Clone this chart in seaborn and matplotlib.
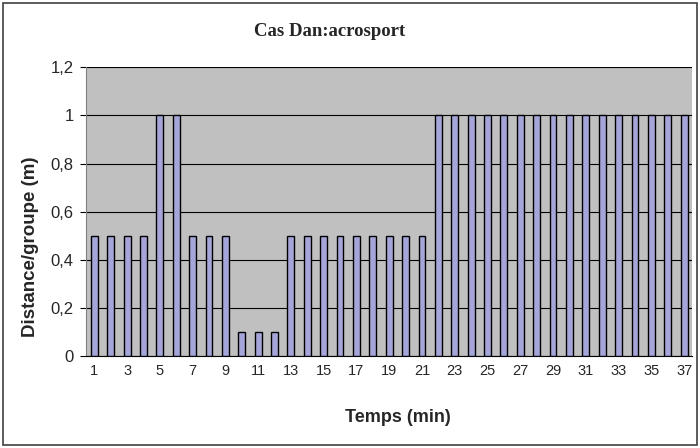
import matplotlib
matplotlib.use("Agg")
import matplotlib.pyplot as plt
import matplotlib.patches as mpatches
import seaborn as sns
import pandas as pd

# minutes and distance per group
minutes = list(range(1, 38))
distance = [0.5, 0.5, 0.5, 0.5, 1, 1, 0.5, 0.5, 0.5, 0.1, 0.1, 0.1,
            0.5, 0.5, 0.5, 0.5, 0.5, 0.5, 0.5, 0.5, 0.5,
            1, 1, 1, 1, 1, 1, 1, 1, 1, 1, 1, 1, 1, 1, 1, 1]
y_ticks = [0, 0.2, 0.4, 0.6, 0.8, 1.0, 1.2]
y_labels = ["0", "0,2", "0,4", "0,6", "0,8", "1", "1,2"]

df = pd.DataFrame({"minute": [str(m) for m in minutes], "distance": distance})

sns.set_style("white")
fig = plt.figure(figsize=(7, 4.48), dpi=100)
ax = fig.add_axes([0.123, 0.205, 0.866, 0.645])
ax.set_facecolor("#c0c0c0")

sns.barplot(data=df, x="minute", y="distance", color="#a5a5da", width=0.42,
            edgecolor="black", linewidth=1.0, saturation=1, ax=ax, zorder=3)

ax.set_xlim(-0.5, len(minutes) - 0.5)
ax.set_ylim(0, 1.2)
ax.set_yticks(y_ticks)
ax.set_yticklabels(y_labels, fontsize=12, family="Liberation Sans")
ax.yaxis.grid(True, color="black", linewidth=0.8, zorder=1)
ax.set_axisbelow(True)

# Excel-style ticks between categories, labels on odd minutes
ax.set_xticks([i - 0.5 for i in range(len(minutes) + 1)], minor=True)
ax.set_xticks(range(0, len(minutes), 2))
ax.set_xticklabels([str(m) for m in minutes[::2]], fontsize=10.5, family="Liberation Sans")
ax.tick_params(axis="x", which="major", length=0, pad=6)
ax.tick_params(axis="x", which="minor", length=4, color="black", direction="out")
ax.tick_params(axis="y", length=4, color="black", direction="out", left=True, pad=5)

for side in ["top", "right"]:
    ax.spines[side].set_visible(False)
ax.spines["left"].set_color("#808080")
ax.spines["bottom"].set_color("black")

ax.set_xlabel("Temps (min)", fontsize=13, fontweight="bold", family="Liberation Sans", va="center")
ax.xaxis.set_label_coords(0.515, -0.214)
ax.set_ylabel("Distance/groupe (m)", fontsize=13.5, fontweight="bold", family="Liberation Sans", va="center")
ax.yaxis.set_label_coords(-0.091, 0.378)
fig.text(0.471, 0.929, "Cas Dan:acrosport", ha="center", va="center",
         fontsize=13.5, fontweight="bold", family="Liberation Serif")

fig.patches.append(mpatches.Rectangle((0.004, 0.006), 0.992, 0.988, transform=fig.transFigure,
                                      fill=False, edgecolor="#404040", linewidth=1.2))

fig.savefig("out.png", dpi=100)
